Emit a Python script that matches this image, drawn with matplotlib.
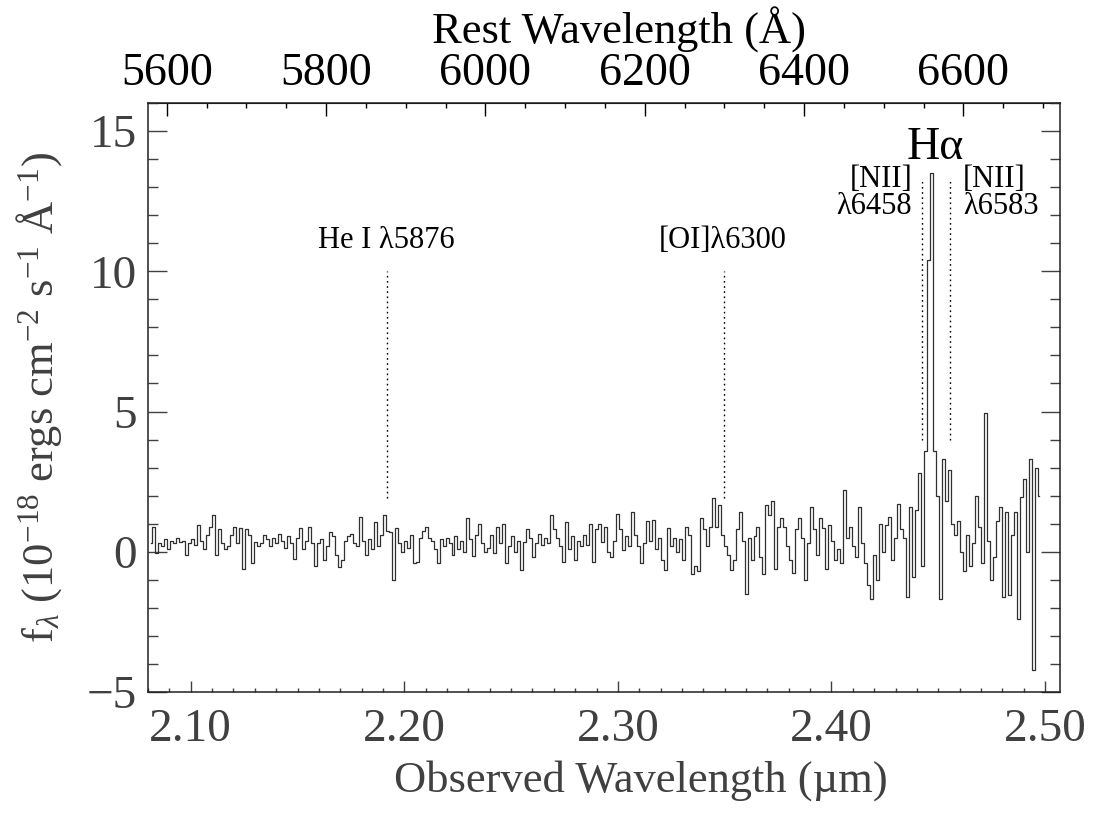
import matplotlib
matplotlib.use("Agg")
import matplotlib.pyplot as plt
import numpy as np
from matplotlib.ticker import MultipleLocator

plt.rcParams["font.family"] = ["Liberation Serif", "DejaVu Serif"]
plt.rcParams["mathtext.fontset"] = "custom"
plt.rcParams["mathtext.rm"] = "Liberation Serif"
plt.rcParams["mathtext.it"] = "Liberation Serif:italic"
plt.rcParams["mathtext.bf"] = "Liberation Serif:bold"

# redshift used for the rest-frame axis (Halpha lands near 2.448 um)
one_plus_z = 3.73

# linear dispersion: first pixel and step in microns
wave_start = 2.0814
wave_step = 0.0014

flux = [
    0.3, 0.9, -0.05, 0.3, 0.2, 0.45, 0.1, 0.4, 0.3, 0.5,
    0.35, 0.4, -0.1, 0.3, 0.45, 0.25, 0.95, 0.4, 0.1, 0.6,
    0.9, 1.3, -0.1, 0.8, 0.3, 0.1, 0.2, 0.6, 0.9, 0.3,
    0.85, -0.6, 0.8, 0.6, -0.4, 0.35, 0.2, 0.3, 0.6, 0.45,
    0.2, 0.5, 0.3, 0.65, 0.4, 0.15, 0.55, 0.3, -0.25, 0.5,
    # 2.15 - 2.22
    0.85, 0.1, 0.4, 0.9, 0.3, -0.5, 0.3, 0.45, -0.3, 0.2,
    0.7, 0.55, -0.1, -0.55, -0.3, 0.4, 0.55, 0.65, 0.3, 0.2,
    1.25, 0.4, -0.1, 0.45, 0.1, 1.05, 0.2, 0.6, 1.3, 0.75,
    0.7, -1.0, 0.85, 0.3, 0.0, 0.4, 0.15, 0.6, -0.4, -0.35,
    0.5, 0.75, 0.9, 0.5, 0.4, 0.1, -0.4, 0.45, 0.2, 0.5,
    # 2.22 - 2.29
    0.3, -0.1, 0.55, 0.1, 0.4, 0.0, 1.2, 0.45, -0.15, 0.6,
    1.0, 0.3, 0.0, 0.15, 0.6, -0.05, 0.9, 0.3, 1.0, -0.4,
    0.2, 0.55, 0.0, 0.4, -0.65, 0.35, 0.8, 0.5, -0.2, 0.3,
    0.65, 0.25, 0.5, 0.3, 1.3, 0.8, 0.5, 0.2, -0.35, 1.05,
    0.1, 0.55, -0.3, 0.4, 0.2, 0.6, 0.25, 1.0, -0.35, 0.8,
    # 2.29 - 2.36
    1.0, 0.35, 0.9, 0.0, -0.2, 0.4, 1.35, 0.8, 0.05, 0.55,
    0.2, 1.4, 0.6, 0.2, -0.4, 0.3, 1.1, 0.4, 1.15, 0.1,
    0.5, -0.3, -0.65, 0.85, 0.2, 0.5, 0.0, 0.45, -0.3, 0.9,
    0.6, -0.8, -0.5, -0.7, 1.2, 0.8, 0.2, 0.9, 1.9, 0.9,
    1.67, 0.6, 0.2, -0.1, -0.65, -0.3, 0.8, 1.43, 0.4, -1.5,
    # 2.36 - 2.43
    0.5, -0.3, 0.55, 0.9, -0.2, -0.8, 1.67, 1.3, 1.8, -0.6,
    0.9, 1.2, 0.9, 0.2, -0.3, -0.77, 0.8, 1.2, 0.5, -1.0,
    0.3, 1.6, 0.8, -0.1, 1.2, 0.85, -0.6, 0.95, 0.4, -0.3,
    0.1, -0.4, 2.2, 0.5, 0.9, 0.2, -0.2, 1.6, 0.3, -0.4,
    -1.2, -1.7, -0.1, -1.0, 1.0, 0.0, 0.95, 1.25, -0.3, 0.5,
    # 2.43 - 2.50 (Halpha + [NII])
    1.7, 0.8, 0.5, -1.6, 1.6, -0.9, 1.5, 2.8, -0.5, 3.6,
    10.4, 13.5, 3.6, 2.0, -1.67, 3.3, 1.8, 2.9, 1.0, 0.6,
    1.1, 0.0, -0.7, 0.6, -0.5, 0.3, 2.0, 0.9, -0.4, 4.95,
    0.4, -1.0, -0.2, 1.1, 1.6, -1.6, 1.4, -1.55, 0.6, 1.4,
    -2.4, 1.96, 2.6, 0.0, 3.3, -4.2, 3.0, 2.0,
]

line_rest = [5876, 6300, 6548, 6583]
line_ymin = [1.9, 1.9, 4.0, 4.0]
line_ymax = [10.0, 10.0, 13.3, 13.3]

gray = "#404040"

wave = wave_start + wave_step * np.arange(len(flux))

fig = plt.figure(figsize=(10.96, 8.14), dpi=100)
ax = fig.add_axes([148 / 1096, 122 / 814, 912 / 1096, 589 / 814])
ax.plot(wave, flux, drawstyle="steps-mid", color="#303030", linewidth=0.9)

for rest, y0, y1 in zip(line_rest, line_ymin, line_ymax):
    obs = rest * one_plus_z / 1e4
    ax.plot([obs, obs], [y0, y1], linestyle=(0, (1.2, 2.5)), color="black", linewidth=1.0)

ax.text(2.1915, 11.1, "He I λ5876", ha="center", va="center", fontsize=22)
ax.text(2.3493, 11.1, "[OI]λ6300", ha="center", va="center", fontsize=22)
ax.text(2.4485, 14.4, "Hα", ha="center", va="center", fontsize=33)
ax.text(2.4378, 12.8, "[NII]\nλ6458", ha="right", va="center", fontsize=22, linespacing=0.92)
ax.text(2.4616, 12.8, "[NII]\nλ6583", ha="left", va="center", fontsize=22, linespacing=0.92)

ax.set_xlim(2.08, 2.507)
ax.set_ylim(-5, 16)
ax.xaxis.set_major_locator(MultipleLocator(0.1))
ax.xaxis.set_minor_locator(MultipleLocator(0.01))
ax.yaxis.set_major_locator(MultipleLocator(5))
ax.yaxis.set_minor_locator(MultipleLocator(1))
ax.set_xticks([2.1, 2.2, 2.3, 2.4, 2.5])
ax.set_xticklabels(["2.10", "2.20", "2.30", "2.40", "2.50"])
ax.set_yticks([-5, 0, 5, 10, 15])
ax.set_yticklabels(["\u22125", "0", "5", "10", "15"])

ax.tick_params(axis="x", which="major", direction="in", length=8, width=1, top=False,
               labelsize=34, labelcolor=gray, pad=12, color=gray)
ax.tick_params(axis="x", which="minor", direction="in", length=3, width=1, top=False, color=gray)
ax.tick_params(axis="y", which="major", direction="in", length=13.5, width=1, right=True,
               labelsize=34, labelcolor=gray, pad=8, color=gray)
ax.tick_params(axis="y", which="minor", direction="in", length=7, width=1, right=True, color=gray)
for spine in ax.spines.values():
    spine.set_linewidth(1.1)
    spine.set_color("#202020")

ax.set_xlabel("Observed Wavelength (µm)", fontsize=32, color=gray)
ax.xaxis.set_label_coords((641 - 148) / 912, -0.115)
ax.set_ylabel(r"f$_\lambda$ (10$^{-18}$ ergs cm$^{-2}$ s$^{-1}$ Å$^{-1}$)", fontsize=32,
              color=gray)
ax.yaxis.set_label_coords(-0.092, 0.5)

top = ax.secondary_xaxis("top", functions=(lambda w: w * 1e4 / one_plus_z,
                                           lambda r: r * one_plus_z / 1e4))
top.set_xticks([5600, 5800, 6000, 6200, 6400, 6600])
top.xaxis.set_minor_locator(MultipleLocator(50))
top.tick_params(which="major", direction="in", length=9.5, width=1, labelsize=33, pad=6)
top.tick_params(which="minor", direction="in", length=3.5, width=1)
top.set_xlabel("Rest Wavelength (Å)", fontsize=32, labelpad=6)
top.xaxis.label.set_x((619 - 148) / 912)

fig.savefig("out.png", dpi=100)
plt.close(fig)
